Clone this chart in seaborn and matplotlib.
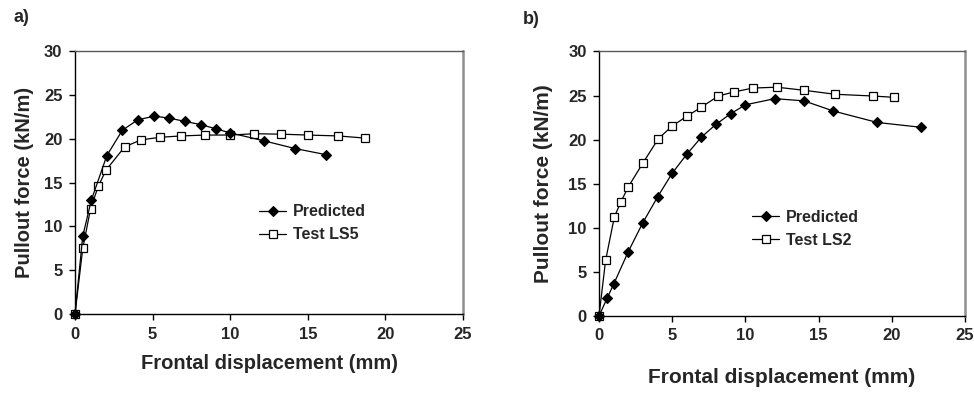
import matplotlib
matplotlib.use("Agg")
import matplotlib.pyplot as plt
import pandas as pd
import seaborn as sns

# ---- panel a) : wall LS5 ----
a_pred_x = [0.0, 0.5, 1.05, 2.05, 3.05, 4.05, 5.1, 6.05, 7.1, 8.1, 9.1, 10.0, 12.15, 14.2, 16.2]
a_pred_y = [0.0, 8.9, 13.0, 18.1, 21.0, 22.2, 22.6, 22.4, 22.0, 21.65, 21.15, 20.7, 19.8, 18.9, 18.2]
a_test_x = [0.0, 0.5, 1.0, 1.5, 2.0, 3.2, 4.25, 5.5, 6.85, 8.4, 10.0, 11.55, 13.3, 15.0, 16.95, 18.7]
a_test_y = [0.0, 7.5, 12.0, 14.6, 16.45, 19.1, 19.9, 20.2, 20.35, 20.45, 20.45, 20.6, 20.55, 20.45, 20.35, 20.1]

# ---- panel b) : wall LS2 ----
b_pred_x = [0.0, 0.55, 1.0, 2.0, 3.0, 4.0, 5.0, 6.0, 7.0, 8.0, 9.0, 10.0, 12.0, 14.0, 16.0, 19.0, 22.0]
b_pred_y = [0.0, 2.0, 3.6, 7.3, 10.6, 13.5, 16.2, 18.35, 20.3, 21.75, 22.95, 23.95, 24.65, 24.4, 23.25, 21.95, 21.4]
b_test_x = [0.0, 0.45, 1.05, 1.5, 2.0, 3.0, 4.05, 5.0, 6.0, 7.0, 8.15, 9.2, 10.5, 12.15, 14.0, 16.1, 18.7, 20.15]
b_test_y = [0.0, 6.3, 11.25, 12.95, 14.65, 17.35, 20.1, 21.55, 22.65, 23.7, 24.95, 25.4, 25.85, 25.95, 25.6, 25.15, 24.95, 24.8]

x_ticks = [0, 5, 10, 15, 20, 25]
y_ticks = [0, 5, 10, 15, 20, 25, 30]
x_label = "Frontal displacement (mm)"
y_label = "Pullout force (kN/m)"

sns.set_style("ticks")
plt.rcParams["font.family"] = ["Liberation Sans", "DejaVu Sans"]

fig = plt.figure(figsize=(9.74, 3.93), dpi=100)
ax_a = fig.add_axes([0.0770, 0.2010, 0.3984, 0.6680])
ax_b = fig.add_axes([0.6150, 0.1960, 0.3758, 0.6730])


def draw_panel(ax, pred_x, pred_y, test_x, test_y, test_name, label_size):
    pred = pd.DataFrame({"x": pred_x, "y": pred_y})
    test = pd.DataFrame({"x": test_x, "y": test_y})
    sns.lineplot(data=pred, x="x", y="y", ax=ax, estimator=None, sort=False,
                 color="black", lw=0.9, marker="D", ms=5.6,
                 markerfacecolor="black", markeredgecolor="black",
                 markeredgewidth=0.8, clip_on=False, zorder=4)
    sns.lineplot(data=test, x="x", y="y", ax=ax, estimator=None, sort=False,
                 color="black", lw=0.9, marker="s", ms=5.6,
                 markerfacecolor="white", markeredgecolor="black",
                 markeredgewidth=0.9, clip_on=False, zorder=3)
    ax.set_xlim(0, 25)
    ax.set_ylim(0, 30)
    ax.set_xticks(x_ticks)
    ax.set_yticks(y_ticks)
    ax.tick_params(direction="out", length=4, width=1, color="black",
                   labelsize=12, pad=5)
    for lab in ax.get_xticklabels() + ax.get_yticklabels():
        lab.set_fontweight("bold")
    for side in ("left", "bottom"):
        ax.spines[side].set_color("black")
        ax.spines[side].set_linewidth(1.0)
    ax.spines["top"].set_visible(True)
    ax.spines["top"].set_color("#5a5a5a")
    ax.spines["top"].set_linewidth(1.0)
    ax.spines["right"].set_visible(True)
    ax.spines["right"].set_color("#8f8f8f")
    ax.spines["right"].set_linewidth(1.8)
    ax.set_xlabel(x_label, fontsize=label_size, fontweight="bold")
    ax.set_ylabel(y_label, fontsize=label_size, fontweight="bold")
    ax.xaxis.label.set_va("center")
    ax.yaxis.label.set_va("center")
    handles = ax.lines[:2]
    ax.legend(handles, ["Predicted", test_name], frameon=False,
              prop={"weight": "bold", "size": 11.5}, handlelength=1.7,
              handletextpad=0.4, borderpad=0, borderaxespad=0)
    return ax.get_legend()


leg_a = draw_panel(ax_a, a_pred_x, a_pred_y, a_test_x, a_test_y, "Test LS5", 14.5)
leg_a.set_loc("center left")
leg_a.set_bbox_to_anchor((0.475, 0.345), transform=ax_a.transAxes)
ax_a.xaxis.set_label_coords(0.5, -0.187)
ax_a.yaxis.set_label_coords(-0.129, 0.5)

leg_b = draw_panel(ax_b, b_pred_x, b_pred_y, b_test_x, b_test_y, "Test LS2", 15)
leg_b.set_loc("center left")
leg_b.set_bbox_to_anchor((0.418, 0.329), transform=ax_b.transAxes)
ax_b.xaxis.set_label_coords(0.5, -0.234)
ax_b.yaxis.set_label_coords(-0.153, 0.5)

fig.text(13 / 974, 1 - 18 / 393, "a)", fontsize=13, fontweight="bold", va="center", ha="left")
fig.text(523 / 974, 1 - 20 / 393, "b)", fontsize=13, fontweight="bold", va="center", ha="left")

fig.savefig("out.png", dpi=100)
